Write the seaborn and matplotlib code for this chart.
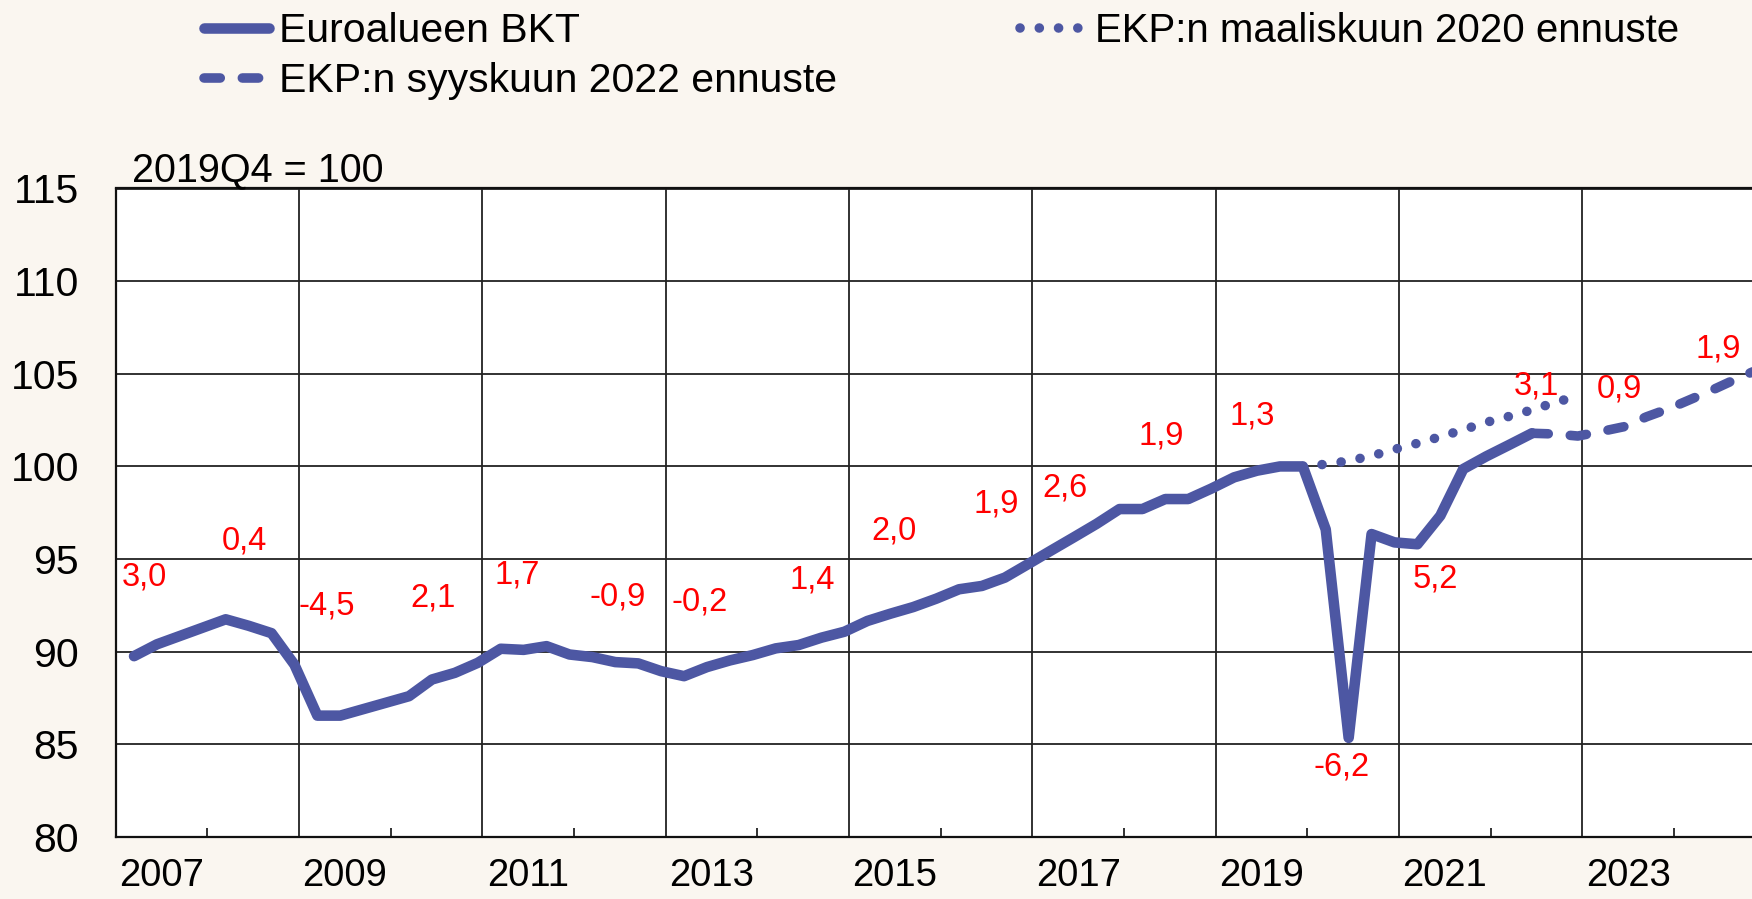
import matplotlib
matplotlib.use("Agg")
import matplotlib.pyplot as plt
import matplotlib.ticker as mticker
from matplotlib.lines import Line2D
import numpy as np
import pandas as pd
import seaborn as sns

# ---------------- data ----------------
bkt_quarters = [f"{y}Q{q}" for y in range(2007, 2023) for q in range(1, 5)][:62]
bkt_values = [
    89.76, 90.40, 90.85, 91.30,   # 2007
    91.75, 91.40, 91.00, 89.30,   # 2008
    86.55, 86.55, 86.90, 87.25,   # 2009
    87.60, 88.50, 88.86, 89.40,   # 2010
    90.16, 90.10, 90.30, 89.85,   # 2011
    89.71, 89.44, 89.37, 88.95,   # 2012
    88.68, 89.17, 89.53, 89.82,   # 2013
    90.18, 90.36, 90.76, 91.08,   # 2014
    91.66, 92.05, 92.41, 92.86,   # 2015
    93.37, 93.55, 94.00, 94.72,   # 2016
    95.45, 96.17, 96.90, 97.70,   # 2017
    97.70, 98.24, 98.24, 98.80,   # 2018
    99.41, 99.77, 100.00, 100.00, # 2019
    96.60, 85.35, 96.35, 95.90,   # 2020
    95.80, 97.34, 99.86, 100.54,  # 2021
    101.16, 101.79,               # 2022
]

sep2022_quarters = ["2022Q2", "2022Q3", "2022Q4", "2023Q1", "2023Q2", "2023Q3",
                    "2023Q4", "2024Q1", "2024Q2", "2024Q3", "2024Q4"]
sep2022_values = [101.79, 101.75, 101.64, 101.88, 102.14, 102.68,
                  103.13, 103.66, 104.20, 104.77, 105.30]

mar2020_quarters = ["2019Q4", "2020Q1", "2020Q2", "2020Q3", "2020Q4", "2021Q1",
                    "2021Q2", "2021Q3", "2021Q4", "2022Q1", "2022Q2", "2022Q3",
                    "2022Q4"]
mar2020_values = [100.00, 100.12, 100.30, 100.57, 100.92, 101.25,
                  101.60, 101.98, 102.38, 102.70, 103.05, 103.45, 103.80]

growth_labels = ["3,0", "0,4", "-4,5", "2,1", "1,7", "-0,9", "-0,2", "1,4", "2,0",
                 "1,9", "2,6", "1,9", "1,3", "-6,2", "5,2", "3,1", "0,9", "1,9"]
growth_label_x = [2007.31, 2008.40, 2009.30, 2010.46, 2011.38, 2012.48, 2013.37,
                  2014.60, 2015.49, 2016.60, 2017.35, 2018.41, 2019.40, 2020.37,
                  2021.40, 2022.50, 2023.40, 2024.48]
growth_label_y = [94.03, 95.96, 92.45, 92.88, 94.12, 92.94, 92.66, 93.85, 96.50,
                  97.96, 98.83, 101.65, 102.73, 83.76, 93.91, 104.34, 104.18, 106.34]

year_labels = ["2007", "2009", "2011", "2013", "2015", "2017", "2019", "2021", "2023"]
y_ticks = [80, 85, 90, 95, 100, 105, 110, 115]

series_names = ["Euroalueen BKT", "EKP:n syyskuun 2022 ennuste",
                "EKP:n maaliskuun 2020 ennuste"]


def qpos(label):
    y, q = label.split("Q")
    return int(y) + (int(q) - 0.2) / 4.0


df_bkt = pd.DataFrame({"x": [qpos(s) for s in bkt_quarters], "y": bkt_values})
df_sep = pd.DataFrame({"x": [qpos(s) for s in sep2022_quarters], "y": sep2022_values})
df_mar = pd.DataFrame({"x": [qpos(s) for s in mar2020_quarters], "y": mar2020_values})

# ---------------- style ----------------
sns.set_theme(style="white")
plt.rcParams["font.family"] = ["Liberation Sans", "DejaVu Sans"]
plt.rcParams["text.color"] = "black"

BLUE = "#4D57A3"
BG = "#FAF6F0"
W, H = 1752, 899

fig = plt.figure(figsize=(W / 100, H / 100), dpi=100, facecolor=BG)
ax = fig.add_axes([115.7 / W, 1 - 837 / H, 1 - 115.7 / W, (837 - 188.5) / H])
ax.set_facecolor("white")

lw_solid = 7.6
lw_fc = 6.9
DOT = (0, (0.01, 2.0))
DASH = (0, (1.7, 2.3))
sns.lineplot(data=df_mar, x="x", y="y", ax=ax, color=BLUE, lw=lw_fc,
             linestyle=DOT, dash_capstyle="round", sort=False, zorder=3)
sns.lineplot(data=df_sep, x="x", y="y", ax=ax, color=BLUE, lw=lw_fc,
             linestyle=DASH, dash_capstyle="round", sort=False, zorder=3)
sns.lineplot(data=df_bkt, x="x", y="y", ax=ax, color=BLUE, lw=lw_solid,
             solid_capstyle="round", solid_joinstyle="round", sort=False,
             zorder=4)

ax.set_xlim(2007, 2024.85)
ax.set_ylim(80, 115)
ax.set_xlabel("")
ax.set_ylabel("")

# y axis
ax.set_yticks(y_ticks)
ax.set_yticklabels([str(v) for v in y_ticks])
ax.tick_params(axis="y", length=0, pad=26.5, labelsize=29.5, colors="black")
ax.yaxis.grid(True, color="#222222", lw=1.3)

# x axis: labels at mid-year, minor tick marks at even years, grid at odd years
label_pos = [int(s) + 0.5 for s in year_labels]
ax.set_xticks(label_pos)
ax.set_xticklabels(year_labels)
ax.tick_params(axis="x", which="major", length=0, pad=15, labelsize=27.5,
               colors="black")
ax.xaxis.set_minor_locator(mticker.FixedLocator(
    [int(s) + 1 for s in year_labels]))
ax.tick_params(axis="x", which="minor", direction="in", length=6.5,
               width=1.3, color="#222222", bottom=True)
for s in year_labels[1:]:
    ax.axvline(int(s), color="#222222", lw=1.3, zorder=1)

for sp in ax.spines.values():
    sp.set_color("#111111")
    sp.set_linewidth(1.6)
ax.spines["right"].set_visible(False)

# growth labels
for t, x, y in zip(growth_labels, growth_label_x, growth_label_y):
    ax.text(x, y, t, color="#FF0000", fontsize=23.5, ha="center", va="center",
            zorder=5)

# unit text
fig.text(132 / W, 1 - 181 / H, "2019Q4 = 100", fontsize=28.5, ha="left",
         va="baseline", color="black")

# legends
h_solid = Line2D([], [], color=BLUE, lw=lw_solid, solid_capstyle="round")
h_dash = Line2D([], [], color=BLUE, lw=lw_fc, linestyle=DASH,
                dash_capstyle="round")
h_dot = Line2D([], [], color=BLUE, lw=lw_fc, linestyle=DOT,
               dash_capstyle="round")

leg_kw = dict(loc="upper left", frameon=False, borderpad=0,
              borderaxespad=0, handletextpad=0.25, labelcolor="black")
leg1 = fig.legend([h_solid, h_dash], series_names[:2], fontsize=29.5,
                  handlelength=1.58, labelspacing=0.3,
                  bbox_to_anchor=(204 / W, 1 - 12 / H), **leg_kw)
leg2 = fig.legend([h_dot], series_names[2:], fontsize=29,
                  handlelength=1.6,
                  bbox_to_anchor=(1020 / W, 1 - 12 / H), **leg_kw)

fig.savefig("out.png", dpi=100, facecolor=BG)
